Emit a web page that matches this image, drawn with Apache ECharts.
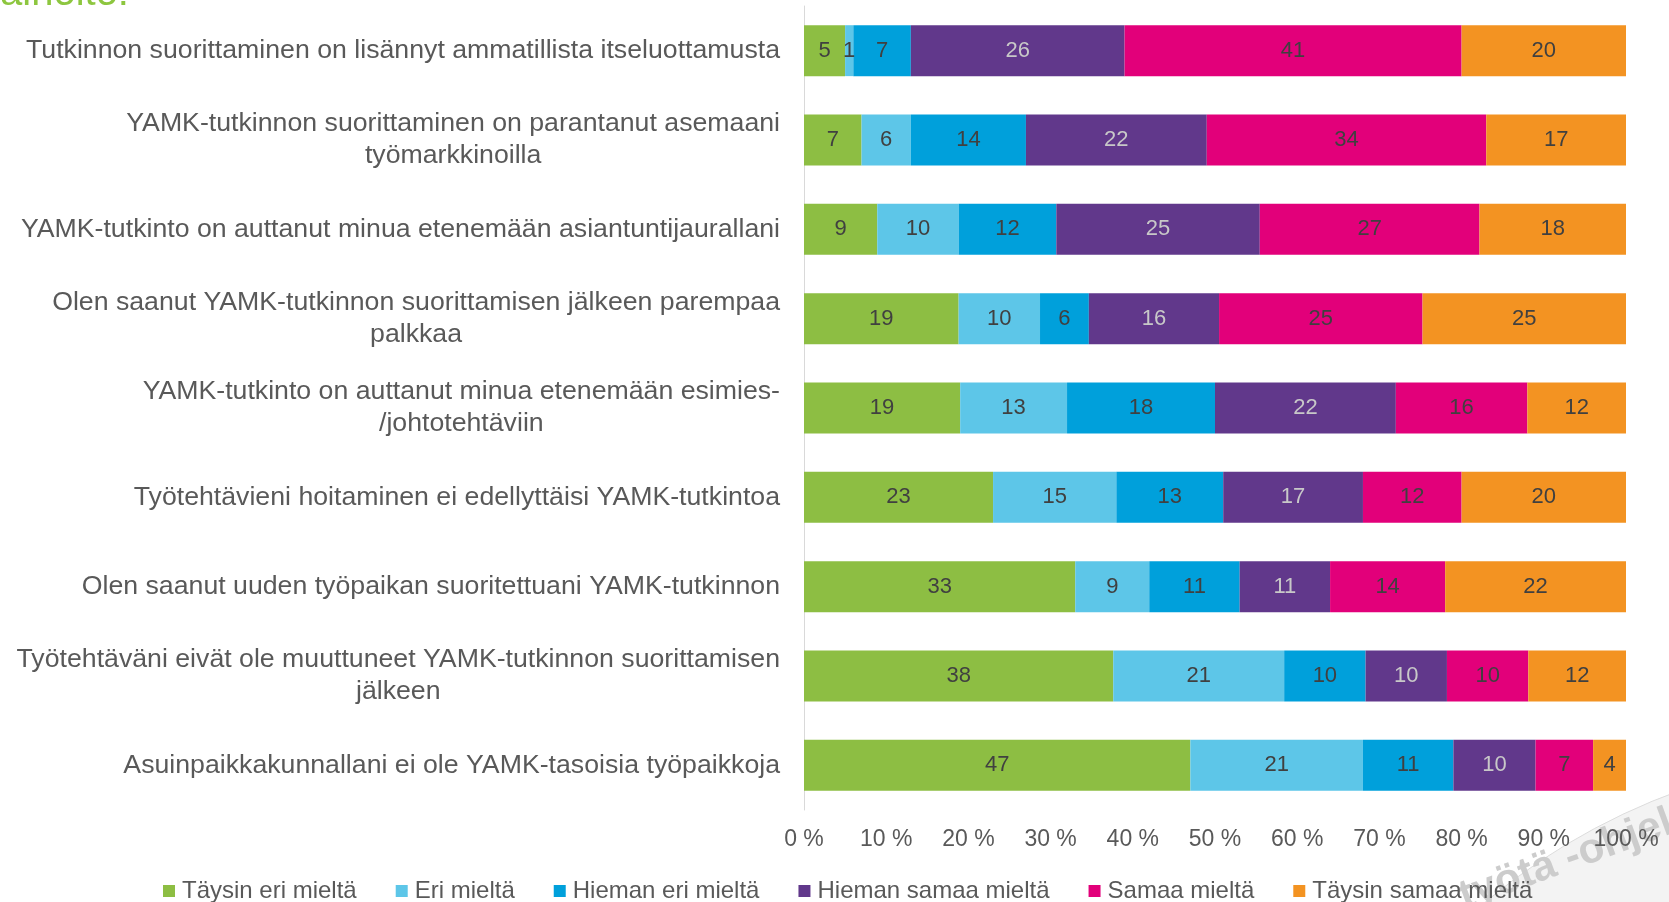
<!DOCTYPE html>
<html>
<head>
<meta charset="utf-8">
<script src="https://cdn.jsdelivr.net/npm/echarts@6/dist/echarts.min.js"></script>
<style>
  html, body { margin: 0; padding: 0; background: #fff; }
  #main { width: 1669px; height: 902px; }
</style>
</head>
<body>
<div id="main"></div>
<script>
// väittämät (ylhäältä alas)
var categories = [
  'Tutkinnon suorittaminen on lisännyt ammatillista itseluottamusta',
  'YAMK-tutkinnon suorittaminen on parantanut asemaani\ntyömarkkinoilla',
  'YAMK-tutkinto on auttanut minua etenemään asiantuntijaurallani',
  'Olen saanut YAMK-tutkinnon suorittamisen jälkeen parempaa\npalkkaa',
  'YAMK-tutkinto on auttanut minua etenemään esimies-\n/johtotehtäviin',
  'Työtehtävieni hoitaminen ei edellyttäisi YAMK-tutkintoa',
  'Olen saanut uuden työpaikan suoritettuani YAMK-tutkinnon',
  'Työtehtäväni eivät ole muuttuneet YAMK-tutkinnon suorittamisen\njälkeen',
  'Asuinpaikkakunnallani ei ole YAMK-tasoisia työpaikkoja'
];

var seriesNames = ['Täysin eri mieltä', 'Eri mieltä', 'Hieman eri mieltä',
  'Hieman samaa mieltä', 'Samaa mieltä', 'Täysin samaa mieltä'];

var taysinEri   = [5, 7, 9, 19, 19, 23, 33, 38, 47];
var eri         = [1, 6, 10, 10, 13, 15, 9, 21, 21];
var hiemanEri   = [7, 14, 12, 6, 18, 13, 11, 10, 11];
var hiemanSamaa = [26, 22, 25, 16, 22, 17, 11, 10, 10];
var samaa       = [41, 34, 27, 25, 16, 12, 14, 10, 7];
var taysinSamaa = [20, 17, 18, 25, 12, 20, 22, 12, 4];

var xTicks = [0, 10, 20, 30, 40, 50, 60, 70, 80, 90, 100];

var colors = ['#8dbe43', '#5dc6e8', '#00a0db', '#61388b', '#e2007a', '#f39322'];
var labelColors = ['#404040', '#404040', '#404040', '#c8c8c8', '#404040', '#404040'];

var allData = [taysinEri, eri, hiemanEri, hiemanSamaa, samaa, taysinSamaa];

var FONT = 'Liberation Sans, Arial, sans-serif';

// rivisummat (pyöristys -> 100 % pino)
var rowSums = categories.map(function (c, i) {
  return allData.reduce(function (s, arr) { return s + arr[i]; }, 0);
});

var chart = echarts.init(document.getElementById('main'));

var series = allData.map(function (arr, k) {
  return {
    name: seriesNames[k],
    type: 'bar',
    stack: 'total',
    barCategoryGap: '43%',
    itemStyle: { color: colors[k] },
    label: {
      show: true,
      position: 'inside',
      color: labelColors[k],
      fontSize: 22,
      fontFamily: FONT,
      formatter: function (p) { return arr[p.dataIndex]; }
    },
    data: arr.map(function (v, i) { return v / rowSums[i] * 100; })
  };
});

var option = {
  animation: false,
  textStyle: { fontFamily: FONT },
  color: colors,
  graphic: [
    {   // yläreunaan leikkautunut otsikko
      type: 'text', left: 0, top: -26,
      style: { text: 'aihoito:', fontSize: 40, fill: '#8dc63f', fontFamily: FONT }
    },
    {   // vesileiman tausta
      type: 'circle', z: -2, silent: true,
      shape: { cx: 1900, cy: 1400, r: 648 },
      style: { fill: '#f3f3f3', stroke: '#dcdcdc', lineWidth: 1 }
    },
    {   // vesileima
      type: 'text', x: 1468, y: 918, rotation: 0.35, z: -1, silent: true,
      style: { text: 'työtä -ohjelma', fontSize: 42, fontWeight: 'bold', fill: '#cccccc',
        fontFamily: FONT, verticalAlign: 'bottom' }
    }
  ],
  grid: { left: 804, right: 43, top: 6, bottom: 92, containLabel: false },
  legend: {
    bottom: -6,
    left: 158,
    itemWidth: 12,
    itemHeight: 12,
    itemGap: 39,
    icon: 'rect',
    textStyle: { fontSize: 24, color: '#595959', padding: [0, 0, 0, 2] },
    data: seriesNames
  },
  xAxis: {
    type: 'value',
    min: 0, max: 100, interval: 10,
    axisLine: { show: false },
    axisTick: { show: false },
    splitLine: { show: false },
    axisLabel: {
      fontSize: 23, color: '#595959', margin: 18,
      formatter: function (v) { return xTicks.indexOf(v) >= 0 ? v + ' %' : ''; }
    }
  },
  yAxis: {
    type: 'category',
    inverse: true,
    data: categories,
    axisLine: { show: true, lineStyle: { color: '#d9d9d9', width: 1 } },
    axisTick: { show: false },
    axisLabel: {
      margin: 24,
      fontSize: 26.7,
      color: '#595959',
      lineHeight: 32,
      formatter: function (v) {
        return v.split('\n').map(function (l) { return '{c|' + l + '}'; }).join('\n');
      },
      rich: { c: { fontSize: 26.7, color: '#595959', align: 'center', lineHeight: 32 } }
    }
  },
  series: series
};

chart.setOption(option);
</script>
</body>
</html>
